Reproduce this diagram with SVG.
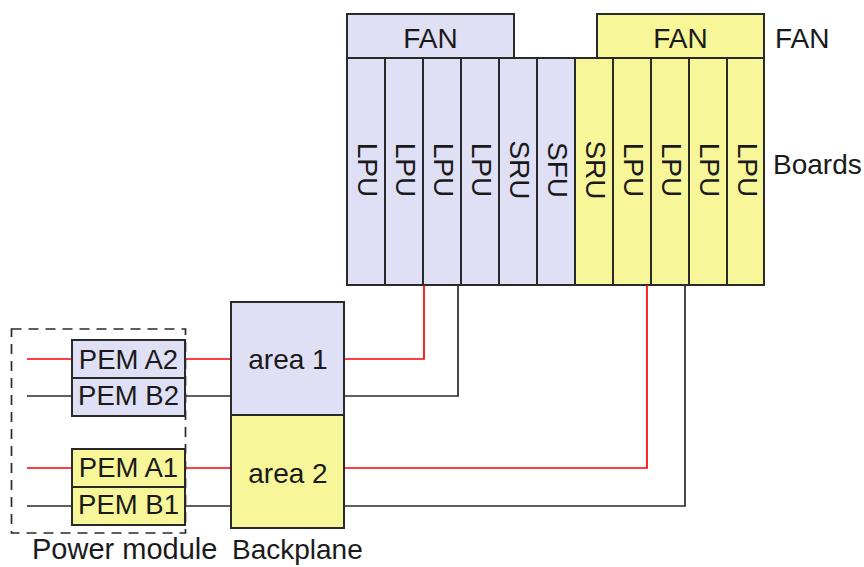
<svg xmlns="http://www.w3.org/2000/svg" width="864" height="567" viewBox="0 0 864 567">
<style>
text{font-family:"Liberation Sans",Arial,sans-serif;font-size:28px;fill:#1a1a1a}
.m{text-anchor:middle}
.l{fill:#dfdff5;stroke:#2a2a2a;stroke-width:2}
.y{fill:#f7f799;stroke:#2a2a2a;stroke-width:2}
.r{stroke:#ff0000;stroke-width:1.7;fill:none}
.k{stroke:#2a2a2a;stroke-width:1.7;fill:none}
</style>
<rect width="864" height="567" fill="#fff"/>
<g id="fan1"><rect class="l" x="347" y="14" width="167" height="44"/><text class="m" x="430.5" y="48">FAN</text></g>
<g id="fan2"><rect class="y" x="597" y="14" width="167" height="44"/><text class="m" x="680.5" y="48">FAN</text></g>
<g id="label-fan"><text x="775" y="48">FAN</text></g>
<g id="label-boards"><text x="773" y="174">Boards</text></g>
<g id="board1"><rect class="l" x="347" y="58" width="38" height="227"/><text class="m" transform="translate(366,170) rotate(90)" x="0" y="8">LPU</text></g>
<g id="board2"><rect class="l" x="385" y="58" width="38" height="227"/><text class="m" transform="translate(404,170) rotate(90)" x="0" y="8">LPU</text></g>
<g id="board3"><rect class="l" x="423" y="58" width="38" height="227"/><text class="m" transform="translate(442,170) rotate(90)" x="0" y="8">LPU</text></g>
<g id="board4"><rect class="l" x="461" y="58" width="38" height="227"/><text class="m" transform="translate(480,170) rotate(90)" x="0" y="8">LPU</text></g>
<g id="board5"><rect class="l" x="499" y="58" width="38" height="227"/><text class="m" transform="translate(518,170) rotate(90)" x="0" y="8">SRU</text></g>
<g id="board6"><rect class="l" x="537" y="58" width="38" height="227"/><text class="m" transform="translate(556,170) rotate(90)" x="0" y="8">SFU</text></g>
<g id="board7"><rect class="y" x="575" y="58" width="38" height="227"/><text class="m" transform="translate(594,170) rotate(90)" x="0" y="8">SRU</text></g>
<g id="board8"><rect class="y" x="613" y="58" width="38" height="227"/><text class="m" transform="translate(632,170) rotate(90)" x="0" y="8">LPU</text></g>
<g id="board9"><rect class="y" x="651" y="58" width="38" height="227"/><text class="m" transform="translate(670,170) rotate(90)" x="0" y="8">LPU</text></g>
<g id="board10"><rect class="y" x="689" y="58" width="38" height="227"/><text class="m" transform="translate(708,170) rotate(90)" x="0" y="8">LPU</text></g>
<g id="board11"><rect class="y" x="727" y="58" width="37" height="227"/><text class="m" transform="translate(745.5,170) rotate(90)" x="0" y="8">LPU</text></g>
<g id="connectors">
<path class="r" d="M27 359H72M185 359H231M344 359H424V285"/>
<path class="k" d="M27 396H72M185 396H231M344 396H458V285"/>
<path class="r" d="M27 468H72M185 468H231M344 468H647V285"/>
<path class="k" d="M27 506H72M185 506H231M344 506H685V285"/>
</g>
<g id="power-module"><rect x="11.5" y="329" width="174" height="204" fill="none" stroke="#2a2a2a" stroke-width="1.7" stroke-dasharray="10 7"/><text x="32" y="559" style="font-size:29px">Power module</text></g>
<g id="pem-a2"><rect class="l" x="72" y="340" width="113" height="38"/><text class="m" x="128.5" y="369" style="font-size:27.5px">PEM A2</text></g>
<g id="pem-b2"><rect class="l" x="72" y="378" width="113" height="38"/><text class="m" x="128.5" y="405" style="font-size:27.5px">PEM B2</text></g>
<g id="pem-a1"><rect class="y" x="72" y="449" width="113" height="38"/><text class="m" x="128.5" y="477" style="font-size:27.5px">PEM A1</text></g>
<g id="pem-b1"><rect class="y" x="72" y="487" width="113" height="38"/><text class="m" x="128.5" y="514" style="font-size:27.5px">PEM B1</text></g>
<g id="area1"><rect class="l" x="231" y="302" width="113" height="113"/><text class="m" x="288" y="369">area 1</text></g>
<g id="area2"><rect class="y" x="231" y="415" width="113" height="113"/><text class="m" x="288" y="483">area 2</text></g>
<g id="label-backplane"><text x="232" y="559">Backplane</text></g>
</svg>
